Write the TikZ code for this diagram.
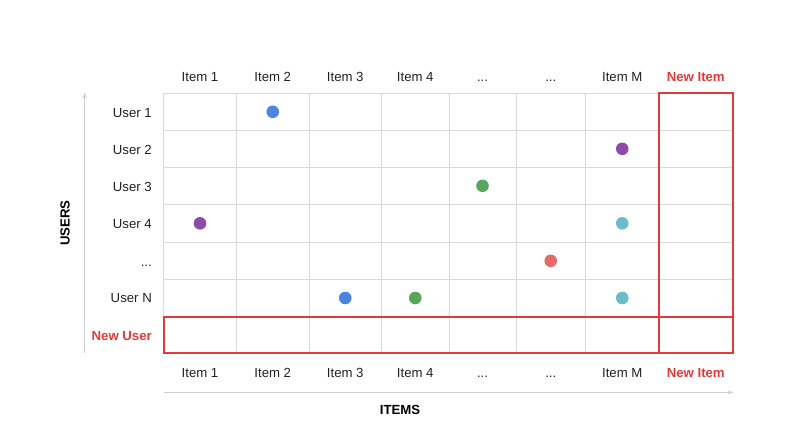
\documentclass[tikz,border=0pt]{standalone}
\usepackage{fontspec}
\setmainfont{Liberation Sans}
\usetikzlibrary{arrows,positioning}
\definecolor{gridgray}{HTML}{D9D9D9}
\definecolor{axisgray}{HTML}{CFCFCF}
\definecolor{textgray}{HTML}{212121}
\definecolor{newred}{HTML}{E2393B}
\definecolor{dotblue}{HTML}{4A86E0}
\definecolor{dotpurple}{HTML}{8E4BAA}
\definecolor{dotgreen}{HTML}{58A65B}
\definecolor{dotred}{HTML}{E56A6A}
\definecolor{dotteal}{HTML}{6CBCCB}
\tikzset{
collabel/.style = {text=textgray, font=\fontsize{13.2}{16}\selectfont, inner sep=0pt, text height=10pt, text depth=3pt},
rowlabel/.style = {collabel, anchor=east},
newlabel/.style = {collabel, text=newred, font=\fontsize{13.2}{16}\selectfont\bfseries},
axistitle/.style = {text=black, font=\fontsize{13.2}{16}\selectfont\bfseries, inner sep=0pt},
rating/.style = {circle, inner sep=0pt, minimum size=12.6pt},
gridline/.style = {draw=gridgray, line width=1pt},
axis/.style = {draw=axisgray, line width=1.1pt, ->},
newbox/.style = {draw=newred, line width=2pt}
}

\begin{document}
\begin{tikzpicture}[x=1pt, y=-1pt, >=latex']
    \useasboundingbox (0,0) rectangle (800,447);

    % grid
    \foreach \gx in {163.5,236.5,309,381.5,449,516,585.5,659,732.5}
        \draw[gridline] (\gx,93.3) -- (\gx,353.3);
    \foreach \gy in {93.3,130.3,167.3,204.3,242.3,279.3,316.7,353.3}
        \draw[gridline] (163.5,\gy) -- (732.5,\gy);

    % new user / new item
    \draw[newbox] (659,93.3) rectangle (732.5,353.3);
    \draw[newbox] (163.5,316.7) rectangle (732.5,353.3);

    % top labels
    \node[collabel] (t1) at (200,78.2) {Item 1};
    \node[collabel] (t2) at (272.75,78.2) {Item 2};
    \node[collabel] (t3) at (345.25,78.2) {Item 3};
    \node[collabel] (t4) at (415.25,78.2) {Item 4};
    \node[collabel] (t5) at (482.5,78.2) {...};
    \node[collabel] (t6) at (550.75,78.2) {...};
    \node[collabel] (tm) at (622.25,78.2) {Item M};
    \node[newlabel] (tnew) at (695.75,78.2) {New Item};

    % bottom labels
    \node[collabel] (b1) at (200,374.2) {Item 1};
    \node[collabel] (b2) at (272.75,374.2) {Item 2};
    \node[collabel] (b3) at (345.25,374.2) {Item 3};
    \node[collabel] (b4) at (415.25,374.2) {Item 4};
    \node[collabel] (b5) at (482.5,374.2) {...};
    \node[collabel] (b6) at (550.75,374.2) {...};
    \node[collabel] (bm) at (622.25,374.2) {Item M};
    \node[newlabel] (bnew) at (695.75,374.2) {New Item};

    % row labels
    \node[rowlabel] (u1) at (152,113.8) {User 1};
    \node[rowlabel] (u2) at (152,150.8) {User 2};
    \node[rowlabel] (u3) at (152,187.8) {User 3};
    \node[rowlabel] (u4) at (152,225.3) {User 4};
    \node[rowlabel] (u5) at (152,262.8) {...};
    \node[rowlabel] (un) at (152,299.2) {User N};
    \node[newlabel, anchor=east] (unew) at (152,336.5) {New User};

    % ratings
    \node[rating, fill=dotblue] (r12) at (272.75,111.8) {};
    \node[rating, fill=dotpurple] (r2m) at (622.25,148.8) {};
    \node[rating, fill=dotgreen] (r35) at (482.5,185.8) {};
    \node[rating, fill=dotpurple] (r41) at (200,223.3) {};
    \node[rating, fill=dotteal] (r4m) at (622.25,223.3) {};
    \node[rating, fill=dotred] (r56) at (550.75,260.8) {};
    \node[rating, fill=dotblue] (rn3) at (345.25,298) {};
    \node[rating, fill=dotgreen] (rn4) at (415.25,298) {};
    \node[rating, fill=dotteal] (rnm) at (622.25,298) {};

    % axes
    \coordinate (ustart) at (84.7,353.3);
    \coordinate (uend) at (84.7,92);
    \coordinate (istart) at (163.5,392.3);
    \coordinate (iend) at (734,392.3);
    \draw[axis] (ustart) -- (uend);
    \draw[axis] (istart) -- (iend);

    \node[axistitle, rotate=90] (users) at (65,223) {USERS};
    \node[axistitle] (items) at (400,410) {ITEMS};
\end{tikzpicture}
\end{document}
